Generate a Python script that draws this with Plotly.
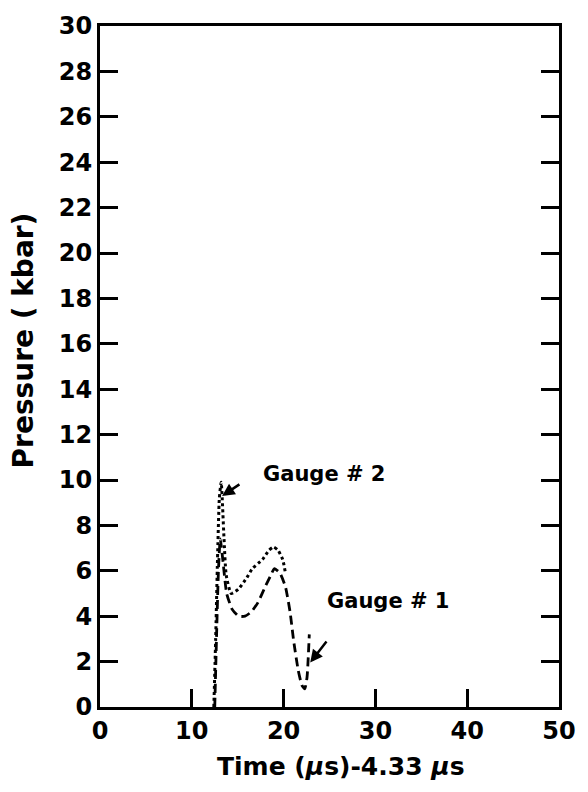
import plotly.graph_objects as go

# Pressure histories of the two gauges (time shifted by 4.33 us)
gauge2_time = [12.4, 12.6, 12.8, 13.0, 13.2, 13.5, 13.75, 14.3, 15.1, 16.0, 16.6,
               17.7, 18.4, 18.9, 19.4, 19.9, 20.2]
gauge2_pressure = [0.0, 3.0, 6.5, 9.2, 9.9, 7.5, 5.8, 5.0, 5.2, 5.7, 6.1,
                   6.5, 6.9, 7.05, 6.9, 6.5, 5.9]

gauge1_time = [12.5, 12.7, 12.9, 13.1, 13.4, 13.8, 14.4, 15.1, 15.8, 16.5, 17.2,
               18.0, 18.6, 19.0, 19.6, 20.2, 20.7, 21.1, 21.6, 22.0, 22.3, 22.55, 22.8]
gauge1_pressure = [0.0, 3.2, 6.0, 7.4, 6.4, 5.0, 4.3, 4.0, 4.0, 4.2, 4.6,
                   5.3, 5.8, 6.1, 5.9, 5.3, 4.2, 2.9, 1.6, 0.95, 0.8, 1.3, 3.2]

x_ticks = [0, 10, 20, 30, 40, 50]
y_ticks = list(range(0, 31, 2))

FONT = "DejaVu Sans"

fig = go.Figure()
fig.add_trace(go.Scatter(
    x=gauge2_time, y=gauge2_pressure, mode="lines",
    line=dict(color="black", width=3, dash="dot", shape="spline", smoothing=0.5),
    showlegend=False, hoverinfo="skip"))
fig.add_trace(go.Scatter(
    x=gauge1_time, y=gauge1_pressure, mode="lines",
    line=dict(color="black", width=2.8, dash="9px,5px", shape="spline", smoothing=0.5),
    showlegend=False, hoverinfo="skip"))
# invisible trace to carry the right-hand tick axis
fig.add_trace(go.Scatter(x=[0], y=[0], yaxis="y2", mode="markers",
                         marker=dict(opacity=0), showlegend=False, hoverinfo="skip"))

axis_common = dict(showgrid=False, zeroline=False, showline=True,
                   linecolor="black", linewidth=3,
                   ticks="inside", ticklen=18, tickwidth=2.5, tickcolor="black",
                   tickfont=dict(family=FONT, size=24, color="black", weight="bold"))

fig.update_layout(
    width=588, height=792,
    margin=dict(l=100, r=18, t=18, b=85),
    paper_bgcolor="white", plot_bgcolor="white",
    xaxis=dict(range=[0, 50], tickvals=x_ticks, ticktext=[str(v) for v in x_ticks],
               mirror=True, **axis_common),
    yaxis=dict(range=[0, 30], tickvals=y_ticks, ticktext=[str(v) for v in y_ticks],
               mirror=True, **axis_common),
    yaxis2=dict(range=[0, 30], tickvals=y_ticks, showticklabels=False,
                overlaying="y", side="right", showgrid=False, zeroline=False,
                showline=False, ticks="inside", ticklen=18, tickwidth=2.5,
                tickcolor="black"),
)

# axis titles
fig.add_annotation(x=0.526, y=-0.088, xref="paper", yref="paper",
                   text="Time (<i>μ</i>s)-4.33 <i>μ</i>s", showarrow=False,
                   xanchor="center", yanchor="middle",
                   font=dict(family=FONT, size=25, color="black", weight="bold"))
fig.add_annotation(x=-0.166, y=0.538, xref="paper", yref="paper",
                   text="Pressure ( kbar)", showarrow=False, textangle=-90,
                   xanchor="center", yanchor="middle",
                   font=dict(family=FONT, size=28, color="black", weight="bold"))

label_font = dict(family=FONT, size=21, color="black", weight="bold")
fig.add_annotation(x=13.3, y=9.3, ax=15.35, ay=9.85, xref="x", yref="y",
                   axref="x", ayref="y", text="", showarrow=True,
                   arrowhead=2, arrowsize=1, arrowwidth=2.5, arrowcolor="black")
fig.add_annotation(x=24.4, y=10.27, xref="x", yref="y", text="Gauge # 2",
                   showarrow=False, font=label_font)
fig.add_annotation(x=31.4, y=4.66, xref="x", yref="y", text="Gauge # 1",
                   showarrow=False, font=label_font)
fig.add_annotation(x=22.9, y=1.96, ax=24.8, ay=2.95, xref="x", yref="y",
                   axref="x", ayref="y", text="", showarrow=True,
                   arrowhead=2, arrowsize=1, arrowwidth=2.5, arrowcolor="black")

fig.write_html("out.html")
